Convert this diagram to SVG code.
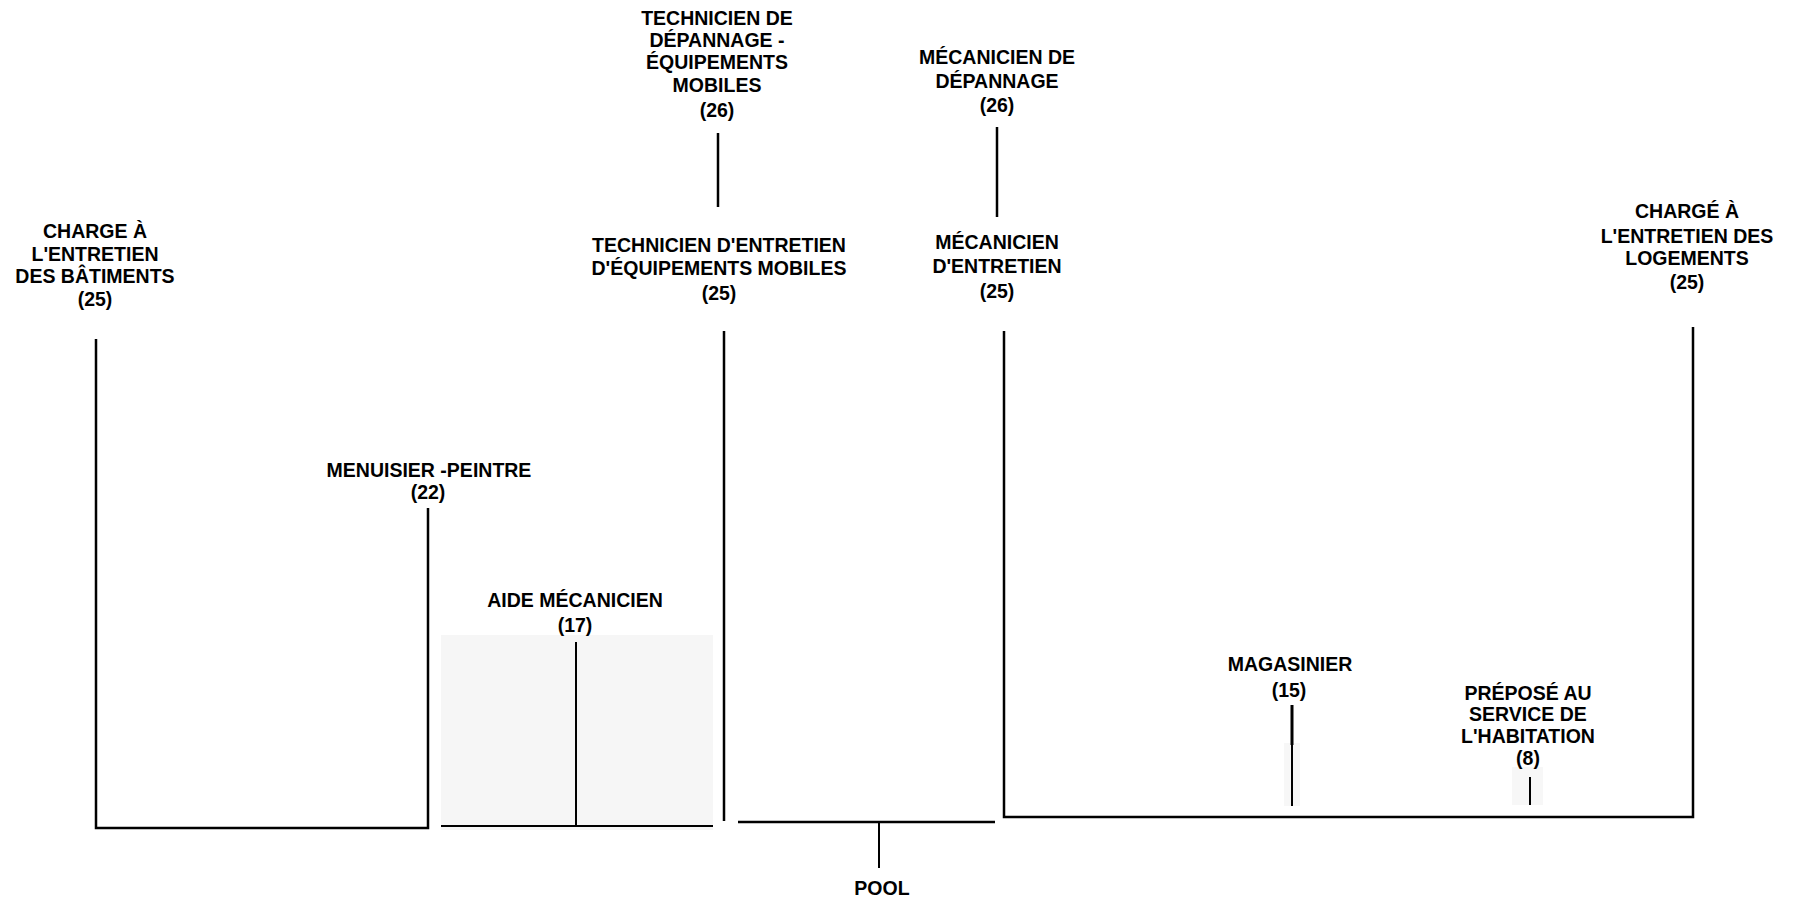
<svg xmlns="http://www.w3.org/2000/svg" width="1799" height="902" viewBox="0 0 1799 902">
<style>
  .lbl { font-family: "Liberation Sans", Arial, sans-serif; font-weight: bold; font-size: 19.5px; fill: #000; text-anchor: middle; }
  .ln { stroke: #000; stroke-width: 2.5; fill: none; stroke-linecap: butt; }
  .thin { stroke: #000; stroke-width: 2; fill: none; }
  .shade { fill: #f6f6f6; stroke: none; }
  .faint { fill: #f7f7f7; stroke: none; }
</style>
<rect width="1799" height="902" fill="#fff"/>

<g id="connectors">
  <rect class="shade" x="441" y="635" width="272" height="195"/>
  <rect class="faint" x="1284" y="743" width="16" height="63"/>
  <rect class="faint" x="1512" y="767" width="31" height="38"/>
  <path class="ln" d="M96 339 V828 H428 V508"/>
  <path class="thin" d="M576 642 V826 M441 826 H713"/>
  <path class="ln" d="M724 331 V821"/>
  <path class="ln" d="M738 822 H995"/>
  <path class="thin" d="M879 822 V868"/>
  <path class="ln" d="M1004 331 V817 H1693 V327"/>
  <path class="ln" d="M718 133 V207"/>
  <path class="ln" d="M997 127 V217"/>
  <path d="M1292 705 V745" stroke="#000" stroke-width="3"/>
  <path class="thin" d="M1292 745 V806"/>
  <path class="thin" d="M1530 777 V805"/>
</g>

<g id="node-charge-batiments">
  <text class="lbl" x="95" y="238">CHARGE À</text>
  <text class="lbl" x="95" y="261">L'ENTRETIEN</text>
  <text class="lbl" x="95" y="283">DES BÂTIMENTS</text>
  <text class="lbl" x="95" y="306">(25)</text>
</g>

<g id="node-tech-depannage">
  <text class="lbl" x="717" y="25">TECHNICIEN DE</text>
  <text class="lbl" x="717" y="47">DÉPANNAGE -</text>
  <text class="lbl" x="717" y="69">ÉQUIPEMENTS</text>
  <text class="lbl" x="717" y="92">MOBILES</text>
  <text class="lbl" x="717" y="117">(26)</text>
</g>

<g id="node-tech-entretien">
  <text class="lbl" x="719" y="252">TECHNICIEN D'ENTRETIEN</text>
  <text class="lbl" x="719" y="275">D'ÉQUIPEMENTS MOBILES</text>
  <text class="lbl" x="719" y="300">(25)</text>
</g>

<g id="node-meca-depannage">
  <text class="lbl" x="997" y="64">MÉCANICIEN DE</text>
  <text class="lbl" x="997" y="88">DÉPANNAGE</text>
  <text class="lbl" x="997" y="112">(26)</text>
</g>

<g id="node-meca-entretien">
  <text class="lbl" x="997" y="249">MÉCANICIEN</text>
  <text class="lbl" x="997" y="273">D'ENTRETIEN</text>
  <text class="lbl" x="997" y="298">(25)</text>
</g>

<g id="node-charge-logements">
  <text class="lbl" x="1687" y="218">CHARGÉ À</text>
  <text class="lbl" x="1687" y="243">L'ENTRETIEN DES</text>
  <text class="lbl" x="1687" y="265">LOGEMENTS</text>
  <text class="lbl" x="1687" y="289">(25)</text>
</g>

<g id="node-menuisier">
  <text class="lbl" x="429" y="477">MENUISIER -PEINTRE</text>
  <text class="lbl" x="428" y="499">(22)</text>
</g>

<g id="node-aide-mecanicien">
  <text class="lbl" x="575" y="607">AIDE MÉCANICIEN</text>
  <text class="lbl" x="575" y="632">(17)</text>
</g>

<g id="node-magasinier">
  <text class="lbl" x="1290" y="671">MAGASINIER</text>
  <text class="lbl" x="1289" y="697">(15)</text>
</g>

<g id="node-prepose">
  <text class="lbl" x="1528" y="700">PRÉPOSÉ AU</text>
  <text class="lbl" x="1528" y="721">SERVICE DE</text>
  <text class="lbl" x="1528" y="743">L'HABITATION</text>
  <text class="lbl" x="1528" y="765">(8)</text>
</g>

<g id="node-pool">
  <text class="lbl" x="882" y="895">POOL</text>
</g>
</svg>
